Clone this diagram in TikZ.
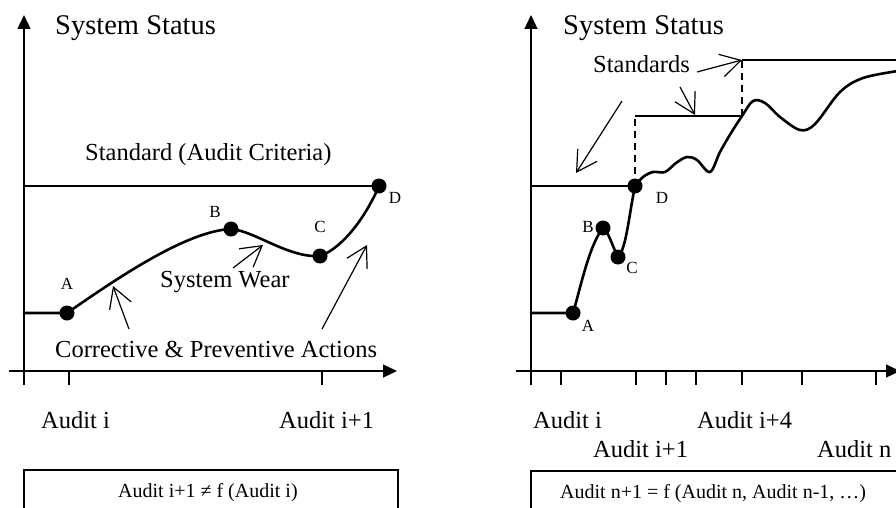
\documentclass[tikz,border=0pt]{standalone}
\usepackage{fontspec}
\setmainfont{Liberation Serif}
\usetikzlibrary{arrows.meta}
\begin{document}
\begin{tikzpicture}[x=1pt,y=-1pt,
  axis/.style={line width=1.4pt,-{Triangle[length=14pt,width=13pt]}},
  tickline/.style={line width=1.4pt},
  curve/.style={line width=2.6pt,line cap=round,line join=round},
  stdline/.style={line width=1.4pt},
  guide/.style={line width=1.4pt,dash pattern=on 7pt off 5pt},
  barb/.style={line width=1.2pt,-{Straight Barb[length=20pt,width=23pt]}},
  dot/.style={circle,fill=black,inner sep=0pt,minimum size=15pt},
  big/.style={font=\fontsize{28.5}{30}\selectfont,inner sep=0pt,anchor=base west},
  txt/.style={font=\fontsize{24.5}{26}\selectfont,inner sep=0pt,anchor=base west},
  ptlabel/.style={font=\fontsize{17}{18}\selectfont,inner sep=0pt},
  boxtxt/.style={font=\fontsize{20}{22}\selectfont,inner sep=0pt,anchor=base west},
  framebox/.style={draw,line width=1.4pt},
]
\useasboundingbox (0,0) rectangle (896,508);

% ---------------- left panel: single audit ----------------
\draw[axis] (24,385) -- (24,15);
\draw[axis] (9,371) -- (397,371);
\draw[tickline] (69,371) -- (69,385);
\draw[tickline] (322,371) -- (322,385);

\coordinate (lA) at (67,313);
\coordinate (lB) at (231,229);
\coordinate (lC) at (320,256);
\coordinate (lD) at (379,186);

\draw[stdline] (24,186) -- (lD);
\draw[curve] (24,313) -- (lA)
  .. controls (112,282) and (185,231) .. (lB)
  .. controls (255,231) and (288,258) .. (lC)
  .. controls (338,250) and (362,225) .. (lD);
\foreach \p in {lA,lB,lC,lD} \node[dot] at (\p) {};

\node[ptlabel] (lAl) at (67,284) {A};
\node[ptlabel] (lBl) at (215,212) {B};
\node[ptlabel] (lCl) at (320,227) {C};
\node[ptlabel] (lDl) at (395,198) {D};

\node[big] (lTitle) at (55,35) {System Status};
\node[txt] (lStd) at (85,160) {Standard (Audit Criteria)};
\node[txt] (lWear) at (160,287) {System Wear};
\node[txt] (lCpa) at (55,357) {Corrective \& Preventive Actions};
\node[txt] (lAi) at (41,428) {Audit i};
\node[txt] (lAi1) at (279,428) {Audit i+1};

\coordinate (wearS) at (233,268);  \coordinate (wearE) at (263,245);
\coordinate (cpaS1) at (129,329);  \coordinate (cpaE1) at (113,286);
\coordinate (cpaS2) at (322,329);  \coordinate (cpaE2) at (367,245);
\draw[barb] (wearS) -- (wearE);
\draw[barb] (cpaS1) -- (cpaE1);
\draw[barb] (cpaS2) -- (cpaE2);

\draw[framebox] (24,470) rectangle (398,520);
\node[boxtxt] (lEq) at (118,497) {Audit i+1 ≠ f (Audit i)};

% ---------------- right panel: successive audits ----------------
\draw[axis] (531,385) -- (531,15);
\draw[axis] (516,371) -- (900,371);
\foreach \t in {561,636,666,696,742,802,876}
  \draw[tickline] (\t,371) -- (\t,385);

\coordinate (rA) at (573,313);
\coordinate (rB) at (603,228);
\coordinate (rC) at (618,257);
\coordinate (rD) at (635,186);
\coordinate (s2a) at (635,116);
\coordinate (s2b) at (742,116);
\coordinate (s3a) at (742,60);
\coordinate (s3b) at (900,60);

\draw[stdline] (531,186) -- (rD);
\draw[guide] (rD) -- (s2a);
\draw[stdline] (s2a) -- (s2b);
\draw[guide] (s2b) -- (s3a);
\draw[stdline] (s3a) -- (s3b);

\draw[curve] (531,313) -- (rA)
  .. controls (580,290) and (589,245) .. (rB)
  .. controls (608,230) and (613,248) .. (rC)
  .. controls (626,250) and (629,215) .. (rD);
\draw[curve] plot[smooth,tension=0.55] coordinates {
  (635,186) (643,177) (653,172) (665,172) (676,163) (687,157) (697,160)
  (710,172) (720,152) (731,133) (742,116) (753,101) (765,103) (780,117)
  (800,130) (815,124) (840,92) (863,78) (898,71)};
\foreach \p in {rA,rB,rC,rD} \node[dot] at (\p) {};

\node[ptlabel] (rAl) at (588,326) {A};
\node[ptlabel] (rBl) at (588,227) {B};
\node[ptlabel] (rCl) at (632,268) {C};
\node[ptlabel] (rDl) at (662,198) {D};

\node[big] (rTitle) at (563,35) {System Status};
\node[txt] (rStd) at (593,73) {Standards};
\node[txt] (rAi) at (533,428) {Audit i};
\node[txt] (rAi4) at (697,428) {Audit i+4};
\node[txt] (rAi1) at (593,457) {Audit i+1};
\node[txt] (rAn) at (817,457) {Audit n};

\coordinate (sS1) at (697,72);  \coordinate (sE1) at (742,60);
\coordinate (sS2) at (680,87);  \coordinate (sE2) at (695,115);
\coordinate (sS3) at (622,101); \coordinate (sE3) at (576,173);
\draw[barb] (sS1) -- (sE1);
\draw[barb] (sS2) -- (sE2);
\draw[barb] (sS3) -- (sE3);

\draw[framebox] (531,471) rectangle (910,520);
\node[boxtxt] (rEq) at (560,498) {Audit n+1 = f (Audit n, Audit n-1, …)};
\end{tikzpicture}
\end{document}
